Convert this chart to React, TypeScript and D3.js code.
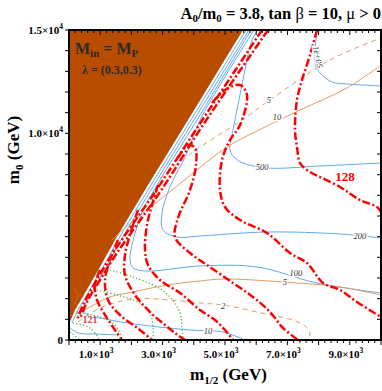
import React from "react";
import * as d3 from "d3";

type P = [number, number][];

const xDomain: [number, number] = [0, 10000];
const yDomain: [number, number] = [0, 15000];
const xMajorTicks = [1000, 3000, 5000, 7000, 9000];
const xMajorLabels = ["1.0", "3.0", "5.0", "7.0", "9.0"];
const yLabelTicks = [0, 10000, 15000];
const yLabelMantissa = ["0", "1.0", "1.5"];

// excluded (brown) region
const excludedRegion: P = [[0, 15000], [5577, 15000], [3814, 10646], [2532, 7500], [1474, 4839], [994, 3533], [513, 2274], [192, 1452], [32, 871], [0, 726]];

// blue contours
const blueEdge: P = [[5673, 15000], [3910, 10646], [2628, 7500], [1570, 4839], [1090, 3533], [609, 2274], [288, 1452], [96, 823]];
const blue10: P = [[5769, 15000], [4006, 10646], [2724, 7500], [1667, 4839], [1186, 3533], [737, 2274], [481, 1549], [609, 1161], [994, 1065], [1859, 823], [3878, 484], [4936, 387], [5641, 0]];
const blue100: P = [[5833, 15000], [4102, 10646], [2917, 7742], [2372, 6291], [2147, 5323], [1987, 4355], [1955, 3871], [2051, 3484], [2500, 3339], [4199, 3581], [6025, 3533], [7948, 2758], [10000, 2274]];
const blue200: P = [[5929, 15000], [4840, 12340], [4199, 10646], [3782, 9049], [3237, 7404], [2981, 6146], [3013, 5323], [3461, 4984], [4199, 5033], [6346, 5226], [8686, 5129], [10000, 4936]];
const blue500: P = [[6057, 15000], [5865, 14517], [5641, 13065], [5384, 11130], [5256, 10162], [5160, 9194], [5320, 8807], [5577, 8565], [6346, 8323], [8045, 8420], [10000, 8565]];
const blue1e5: P = [[7948, 15000], [7884, 13888], [7916, 13210], [8045, 12920], [8429, 12484], [8910, 12388], [10000, 12291]];
const blueOrigin: P = [[32, 580], [300, 340], [900, 290], [1500, 250]];

// orange contours
const orange10: P = [[1378, 4839], [1795, 5420], [2820, 6678], [3782, 7839], [5064, 9339], [6282, 10307], [7404, 11130], [8910, 12194], [10000, 13307]];
const orange5: P = [[256, 1258], [673, 1597], [1314, 2081], [2051, 2323], [3141, 2661], [4199, 2855], [4936, 2952], [6859, 2807], [8686, 2565], [10000, 2178]];
const orangeDash5: P = [[2917, 7839], [3974, 9097], [5545, 10646], [6442, 11614], [8365, 13549], [10000, 14614]];
const orangeDash2: P = [[288, 871], [994, 1549], [2051, 1984], [3237, 1936], [4199, 1790], [4936, 1694], [6025, 1355], [7404, 823], [7724, 387], [7628, 0]];
const orangeInside: P = [[160, 2500], [300, 2150], [200, 1800], [380, 1500]];

// green dotted contours
const green1: P = [[1314, 3387], [2051, 3049], [2820, 2565], [3237, 2081], [3558, 1307], [3622, 629], [3654, 0]];
const green2: P = [[897, 2420], [1538, 2178], [2276, 1790], [2596, 1307], [2692, 629], [2692, 0]];
const green3: P = [[256, 1355], [994, 1113], [1410, 823], [1635, 339], [1699, 0]];
const green4: P = [[128, 823], [673, 581], [994, 0]];
const green5: P = [[32, 387], [353, 0]];

// red dash-dot contours (Higgs mass)
const red128: P = [[7948, 15000], [7724, 13791], [7468, 12581], [7307, 11614], [7243, 10162], [7307, 9339], [7404, 8565], [7628, 8226], [8686, 7404], [9326, 6775], [9871, 6436], [10000, 6194]];
const redB: P = [[4583, 11470], [5000, 12098], [5481, 12340], [5705, 11856], [5481, 10404], [5160, 9678], [4904, 8710], [4840, 7259], [5000, 6436], [5481, 5807], [6346, 5178], [7083, 4210], [7628, 3726], [8141, 2758], [8686, 2420], [9230, 1839], [10000, 1113]];
const redC: P = [[3494, 8807], [3814, 9436], [4038, 9291], [4070, 8468], [3878, 7259], [3494, 5904], [3397, 4984], [3878, 4210], [4423, 3629], [5256, 2758], [5897, 2081], [6442, 1355], [6859, 581], [7340, 0]];
const redD: P = [[2852, 7500], [2660, 6533], [2500, 5565], [2436, 4355], [2532, 3629], [2917, 2903], [3558, 2274], [4199, 1452], [4679, 968], [5000, 484], [5256, 0]];
const redE: P = [[2211, 6291], [1955, 5081], [1795, 4113], [1795, 3145], [2115, 2178], [2596, 1355], [3077, 726], [3397, 339], [3718, 0]];
const redF: P = [[1570, 4839], [1314, 3871], [1154, 2903], [1250, 1936], [1635, 1210], [2276, 484], [2660, 0]];
const redG: P = [[994, 3387], [833, 2661], [897, 1936], [1154, 1210], [1474, 484], [1699, 0]];
const redEdge1: P = [[6378, 15000], [4295, 10404], [2917, 7162], [1538, 4210], [994, 2903], [609, 1936], [353, 1065]];
const redEdge2: P = [[6186, 15000], [4167, 10404], [2756, 7162], [1410, 4210], [833, 2758], [449, 1694], [256, 968]];

// contour labels: text, m1/2, m0, rotation
const contourLabels: [string, number, number, number][] = [
  ["1e+05", 7948, 13694, 78],
  ["500", 6186, 8323, 0],
  ["200", 9326, 4984, 0],
  ["100", 7275, 3194, 0],
  ["10", 4455, 387, 0],
  ["10", 6666, 10743, 0],
  ["5", 6410, 11565, 0],
  ["5", 6923, 2758, 0],
  ["2", 4936, 1597, 0],
];
const higgsLabels: [string, number, number, number][] = [
  ["121", 673, 919, 10],
  ["128", 8846, 7839, 13],
];

const styles: Record<string, { stroke: string; width: number; dash?: string; opacity?: number }> = {
  blue: { stroke: "#62aaef", width: 1 },
  orange: { stroke: "#e49a62", width: 1 },
  orangeFaint: { stroke: "#e49a62", width: 0.8, opacity: 0.5 },
  orangeDash: { stroke: "#e49a62", width: 1, dash: "5,4" },
  green: { stroke: "#2fb52f", width: 1.2, dash: "1.2,2.2" },
  red: { stroke: "#ff0000", width: 2.5, dash: "8,2.5,2,2.5" },
};

const series: [P, string][] = [
  [orangeInside, "orangeFaint"],
  [blueEdge, "blue"], [blue10, "blue"], [blue100, "blue"], [blue200, "blue"], [blue500, "blue"], [blue1e5, "blue"], [blueOrigin, "blue"],
  [orange10, "orange"], [orange5, "orange"], [orangeDash5, "orangeDash"], [orangeDash2, "orangeDash"],
  [green1, "green"], [green2, "green"], [green3, "green"], [green4, "green"], [green5, "green"],
  [redEdge1, "red"], [redEdge2, "red"], [red128, "red"], [redB, "red"], [redC, "red"], [redD, "red"], [redE, "red"], [redF, "red"], [redG, "red"],
];

const W = 382, H = 391;
const L = 69, R = 381, T = 30, B = 340;
const serif = "'Liberation Serif', 'Times New Roman', serif";

export default function App() {
  const x = d3.scaleLinear().domain(xDomain).range([L, R]);
  const y = d3.scaleLinear().domain(yDomain).range([B, T]);
  const line = d3.line<[number, number]>().x(d => x(d[0])).y(d => y(d[1])).curve(d3.curveCatmullRom.alpha(0.5));
  const poly = d3.line<[number, number]>().x(d => x(d[0])).y(d => y(d[1]));
  const xMinor = d3.range(0, 10001, 200);
  const yMinor = d3.range(0, 15001, 1000);

  return (
    <svg width={W} height={H} style={{ position: "absolute", left: 0, top: 0, background: "#fff" }} fontFamily={serif}>
      <defs>
        <clipPath id="plot"><rect x={L} y={T} width={R - L} height={B - T} /></clipPath>
      </defs>
      <rect x={0} y={0} width={W} height={H} fill="#fff" />
      <g clipPath="url(#plot)">
        <path d={poly(excludedRegion) + "Z"} fill="#b84d00" />
        {series.map(([d, k], i) => {
          const s = styles[k];
          return <path key={i} d={line(d) || ""} fill="none" stroke={s.stroke} strokeWidth={s.width} strokeDasharray={s.dash} opacity={s.opacity ?? 1} />;
        })}
        {contourLabels.map(([t, a, b, rot], i) => (
          <text key={i} x={0} y={0} transform={`translate(${x(a)},${y(b)}) rotate(${rot})`} fontSize={8.5} fontStyle="italic" textAnchor="middle" dominantBaseline="middle" fill="#333" stroke="#fff" strokeWidth={2.5} paintOrder="stroke">{t}</text>
        ))}
        {higgsLabels.map(([t, a, b, fs], i) => (
          <text key={i} x={x(a)} y={y(b)} fontSize={fs} fontWeight="bold" textAnchor="middle" dominantBaseline="middle" fill={i === 0 ? "#e8405a" : "#ff0000"}>{t}</text>
        ))}
      </g>
      {xMinor.map(v => {
        const major = v % 1000 === 0;
        return (
          <g key={"xt" + v}>
            <line x1={x(v)} x2={x(v)} y1={B} y2={B + (major ? 5 : 3)} stroke="#000" strokeWidth={1} />
            <line x1={x(v)} x2={x(v)} y1={T} y2={T + (major ? 5 : 3)} stroke="#000" strokeWidth={1} />
          </g>
        );
      })}
      {yMinor.map(v => (
        <g key={"yt" + v}>
          <line x1={L - 4} x2={L} y1={y(v)} y2={y(v)} stroke="#000" strokeWidth={1} />
          <line x1={R - 4} x2={R} y1={y(v)} y2={y(v)} stroke="#000" strokeWidth={1} />
        </g>
      ))}
      <rect x={L} y={T} width={R - L} height={B - T} fill="none" stroke="#000" strokeWidth={2} />
      {xMajorTicks.map((v, i) => (
        <text key={"xl" + v} x={x(v) - 4} y={358} fontSize={11} fontWeight="bold" textAnchor="middle">
          {xMajorLabels[i]}×10<tspan dy={-5} fontSize={7.5}>3</tspan>
        </text>
      ))}
      {yLabelTicks.map((v, i) => (
        <text key={"yl" + v} x={63} y={y(v) + 4} fontSize={11} fontWeight="bold" textAnchor="end">
          {v === 0 ? "0" : <>{yLabelMantissa[i]}×10<tspan dy={-5} fontSize={7.5}>4</tspan></>}
        </text>
      ))}
      <text x={190} y={380} fontSize={17} fontWeight="bold">
        m<tspan fontSize={11} dy={4}>1/2</tspan><tspan dy={-4}> (GeV)</tspan>
      </text>
      <text transform="translate(19,150) rotate(-90)" fontSize={17} fontWeight="bold" textAnchor="middle">
        m<tspan fontSize={11} dy={4}>0</tspan><tspan dy={-4}> (GeV)</tspan>
      </text>
      <text x={381} y={19} fontSize={16.5} fontWeight="bold" textAnchor="end">
        A<tspan fontSize={11} dy={3}>0</tspan><tspan dy={-3}>/m</tspan><tspan fontSize={11} dy={3}>0</tspan><tspan dy={-3}> = 3.8, tan </tspan><tspan fontWeight="normal">β</tspan><tspan> = 10, </tspan><tspan fontWeight="normal">μ</tspan><tspan> &gt; 0</tspan>
      </text>
      <text x={75} y={54} fontSize={16} fontWeight="bold" fill="#2a2a2a">
        M<tspan fontSize={11} dy={3}>in</tspan><tspan dy={-3}> = M</tspan><tspan fontSize={11} dy={3}>P</tspan>
      </text>
      <text x={82} y={74} fontSize={12} fontWeight="bold" fill="#2a2a2a">λ = (0.3,0.3)</text>
    </svg>
  );
}
